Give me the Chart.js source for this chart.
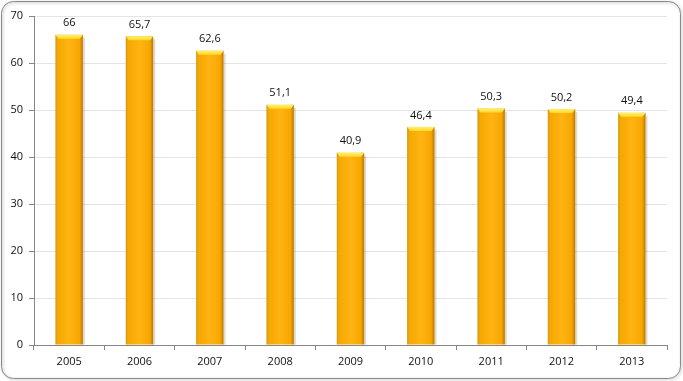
<!DOCTYPE html>
<html>
<head>
<meta charset="utf-8">
<script src="https://cdn.jsdelivr.net/npm/chart.js@4/dist/chart.umd.min.js"></script>
<style>
  html, body { margin: 0; padding: 0; background: #fff; }
  #wrap { width: 683px; height: 381px; position: relative; }
</style>
</head>
<body>
<div id="wrap"><canvas id="myChart" width="683" height="381"></canvas></div>
<script>
var years = ['2005', '2006', '2007', '2008', '2009', '2010', '2011', '2012', '2013'];
var values = [66, 65.7, 62.6, 51.1, 40.9, 46.4, 50.3, 50.2, 49.4];
var yTicks = [0, 10, 20, 30, 40, 50, 60, 70];

var fontName = "'Open Sans', 'Liberation Sans', sans-serif";

// rounded frame around the whole chart
var framePlugin = {
  id: 'frame',
  beforeDraw: function(chart) {
    var c = chart.ctx;
    c.save();
    c.fillStyle = '#ffffff';
    c.fillRect(0, 0, chart.width, chart.height);
    c.shadowColor = 'rgba(0,0,0,0.35)';
    c.shadowBlur = 3;
    c.shadowOffsetX = 1;
    c.shadowOffsetY = 1;
    c.strokeStyle = '#8a8a8a';
    c.lineWidth = 1;
    c.beginPath();
    c.roundRect(1.5, 1.5, chart.width - 4, chart.height - 4, 12);
    c.stroke();
    c.restore();
  }
};

// gold bar look with bevelled top + value labels
var barLook = {
  id: 'barLook',
  afterDatasetsDraw: function(chart) {
    var c = chart.ctx;
    var meta = chart.getDatasetMeta(0);
    meta.data.forEach(function(bar, i) {
      var left = bar.x - bar.width / 2;
      var w = bar.width;
      var top = bar.y;
      var bottom = bar.base;
      c.save();
      // soft shadow on the right
      c.fillStyle = 'rgba(110,90,50,0.22)';
      c.fillRect(left + w, top + 3, 2, bottom - top - 3);
      var g = c.createLinearGradient(left, 0, left + w, 0);
      g.addColorStop(0, '#d48a00');
      g.addColorStop(0.12, '#f7a800');
      g.addColorStop(0.5, '#ffb414');
      g.addColorStop(0.88, '#f7a600');
      g.addColorStop(1, '#b87800');
      c.fillStyle = g;
      c.fillRect(left, top, w, bottom - top);
      // bevelled top
      var b = 4;
      var cg = c.createLinearGradient(0, top, 0, top + b + 1);
      cg.addColorStop(0, '#fff06a');
      cg.addColorStop(1, '#ffd21a');
      c.fillStyle = cg;
      c.beginPath();
      c.moveTo(left, top);
      c.lineTo(left + w, top);
      c.lineTo(left + w - 3, top + b);
      c.lineTo(left + 3, top + b);
      c.closePath();
      c.fill();
      // bevel side shading
      c.fillStyle = 'rgba(255,230,80,0.6)';
      c.beginPath();
      c.moveTo(left, top);
      c.lineTo(left + 3, top + b);
      c.lineTo(left + 3, bottom);
      c.lineTo(left, bottom);
      c.closePath();
      c.globalAlpha = 0.25;
      c.fill();
      c.globalAlpha = 1;
      // label
      c.fillStyle = '#111';
      c.font = '11px ' + fontName;
      c.textAlign = 'center';
      c.textBaseline = 'bottom';
      c.fillText(String(values[i]).replace('.', ','), bar.x, top - 6);
      c.restore();
    });
  }
};

var ctx = document.getElementById('myChart');
var myChart = new Chart(ctx, {
  type: 'bar',
  data: {
    labels: years,
    datasets: [{
      data: values,
      backgroundColor: 'rgba(0,0,0,0)',
      borderWidth: 0,
      categoryPercentage: 1,
      barPercentage: 0.39
    }]
  },
  options: {
    responsive: false,
    animation: false,
    events: [],
    layout: { padding: { left: 0, top: 16, right: 16, bottom: 0 } },
    plugins: {
      legend: { display: false },
      tooltip: { enabled: false }
    },
    scales: {
      x: {
        afterFit: function(scale) { scale.height = 36; },
        grid: {
          display: true,
          drawOnChartArea: false,
          offset: true,
          color: '#868686',
          tickLength: 5
        },
        border: { color: '#868686' },
        ticks: { color: '#111', font: { family: fontName, size: 11 }, padding: 5 }
      },
      y: {
        min: 0,
        max: 70,
        afterFit: function(scale) { scale.width = 34; },
        afterBuildTicks: function(scale) {
          scale.ticks = yTicks.map(function(v) { return { value: v }; });
        },
        grid: { color: '#e4e4e4', tickLength: 5, tickColor: '#868686' },
        border: { color: '#868686' },
        ticks: { color: '#111', font: { family: fontName, size: 11 }, padding: 6 }
      }
    }
  },
  plugins: [framePlugin, barLook]
});
</script>
</body>
</html>
